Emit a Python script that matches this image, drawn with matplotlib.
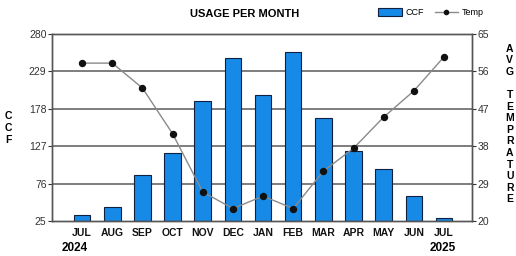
import matplotlib.pyplot as plt
import numpy as np

plt.rcParams['font.family'] = ['Liberation Sans', 'DejaVu Sans']

# data
months = ['JUL', 'AUG', 'SEP', 'OCT', 'NOV', 'DEC', 'JAN',
          'FEB', 'MAR', 'APR', 'MAY', 'JUN', 'JUL']
ccf = [33, 44, 88, 118, 189, 247, 197, 255, 165, 120, 96, 59, 29]
temp = [58, 58, 52, 41, 27, 23, 26, 23, 32, 37.5, 45, 51.3, 59.5]
ccfTicks = [25, 76, 127, 178, 229, 280]
tempTicks = [20, 29, 38, 47, 56, 65]

x = np.arange(len(months))

fig = plt.figure(figsize=(5.16, 2.56), dpi=100)
ax = fig.add_axes([0.1008, 0.1367, 0.8139, 0.7303])

ax.set_axisbelow(True)
for t in ccfTicks[1:-1]:
    ax.axhline(t, color='#5a5a5a', lw=1.1, zorder=0)

bars = ax.bar(x, [v - 25 for v in ccf], bottom=25, width=0.55,
              color='#1789e6', edgecolor='#102040', lw=0.8,
              label='CCF', zorder=2)
ax.set_ylim(25, 280)
ax.set_xlim(-1, 12.93)
ax.set_yticks(ccfTicks)
ax.set_xticks(x)
ax.set_xticklabels(months)

ax2 = ax.twinx()
ax2.plot(x, temp, color='#8a8a8a', lw=1, marker='o', markersize=4.3,
         markerfacecolor='#111111', markeredgecolor='#111111', label='Temp', zorder=3)
ax2.set_ylim(20, 65)
ax2.set_yticks(tempTicks)

for a in (ax, ax2):
    for s in a.spines.values():
        s.set_color('#555555')
        s.set_linewidth(1)
    a.tick_params(colors='#333333', labelsize=7.5, length=3, width=0.8, pad=1)
    for lab in a.get_yticklabels() + a.get_xticklabels():
        lab.set_color('#333333')
ax.tick_params(axis='x', length=0, pad=5)
for lab in ax.get_xticklabels():
    lab.set_fontweight('bold')
    lab.set_color('#111111')

fig.text(0.475, 0.945, 'USAGE PER MONTH', ha='center', va='center',
         fontsize=8, fontweight='bold')

h1, l1 = ax.get_legend_handles_labels()
h2, l2 = ax2.get_legend_handles_labels()
leg = fig.legend(h1 + h2, l1 + l2, loc='center', bbox_to_anchor=(0.835, 0.95),
                 ncol=2, frameon=False, fontsize=6.5, handlelength=2.6,
                 handleheight=1.0, columnspacing=1.2, handletextpad=0.4,
                 markerscale=0.7)

# stacked axis titles
fig.text(0.016, 0.5, 'C\nC\nF', ha='center', va='center', fontsize=7.5,
         fontweight='bold', linespacing=1.2)
fig.text(0.988, 0.516, 'A\nV\nG\n\nT\nE\nM\nP\nR\nA\nT\nU\nR\nE', ha='center',
         va='center', fontsize=7.5, fontweight='bold', linespacing=1.2)

fig.text(0.145, 0.03, '2024', ha='center', va='center', fontsize=8.5, fontweight='bold')
fig.text(0.858, 0.03, '2025', ha='center', va='center', fontsize=8.5, fontweight='bold')

fig.savefig('out.png', dpi=100)
